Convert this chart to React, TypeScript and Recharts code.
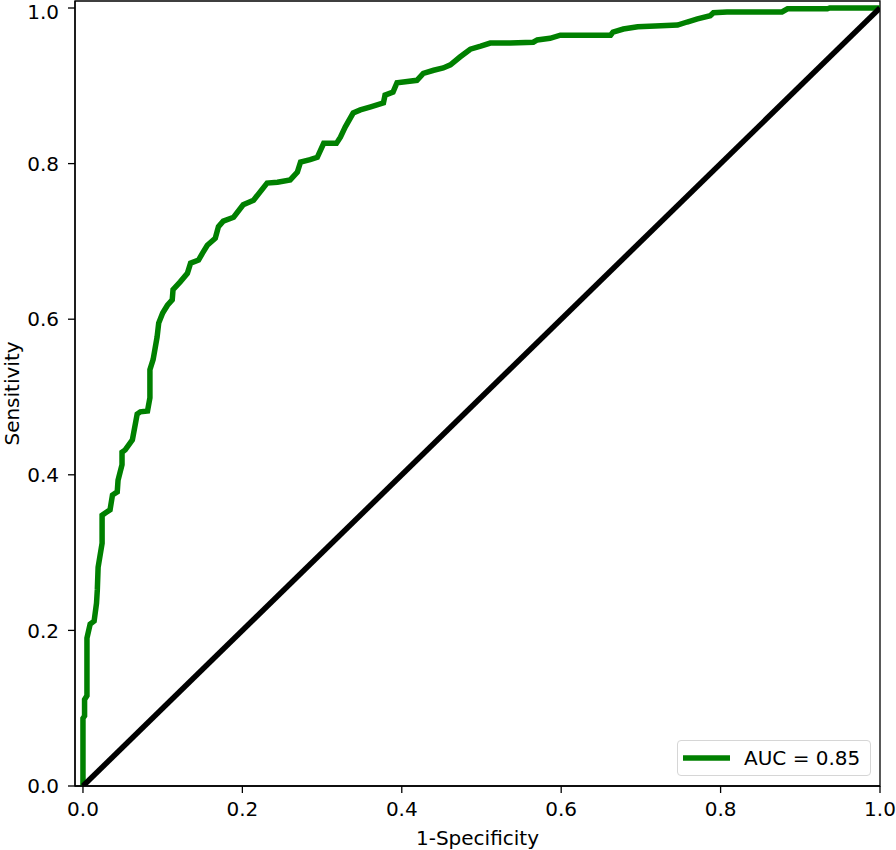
import {
  ComposedChart,
  Line,
  XAxis,
  YAxis,
  Legend,
  ReferenceArea,
} from 'recharts'

// ROC curve points
const fpr = [
  0, 0, 0.002, 0.002, 0.005, 0.005, 0.009, 0.014, 0.017, 0.018, 0.019, 0.024,
  0.024, 0.028, 0.034, 0.037, 0.043, 0.044, 0.049, 0.049, 0.053, 0.062, 0.066,
  0.068, 0.072, 0.081, 0.084, 0.084, 0.088, 0.093, 0.095, 0.1, 0.106, 0.112,
  0.113, 0.122, 0.131, 0.135, 0.145, 0.15, 0.156, 0.166, 0.17, 0.176, 0.189,
  0.201, 0.214, 0.231, 0.244, 0.26, 0.269, 0.273, 0.285, 0.294, 0.302, 0.318,
  0.323, 0.329, 0.339, 0.348, 0.361, 0.377, 0.379, 0.389, 0.394, 0.402, 0.419,
  0.427, 0.44, 0.452, 0.461, 0.473, 0.486, 0.499, 0.511, 0.536, 0.565, 0.57,
  0.586, 0.599, 0.662, 0.665, 0.678, 0.696, 0.718, 0.746, 0.758, 0.771, 0.787,
  0.791, 0.808, 0.877, 0.884, 0.934, 0.937, 1.0,
]
const tpr = [
  0, 0.087, 0.09, 0.111, 0.116, 0.19, 0.208, 0.212, 0.235, 0.252, 0.281, 0.312,
  0.348, 0.351, 0.355, 0.374, 0.378, 0.393, 0.413, 0.429, 0.432, 0.445, 0.467,
  0.478, 0.481, 0.482, 0.499, 0.535, 0.548, 0.577, 0.595, 0.608, 0.618, 0.625,
  0.638, 0.648, 0.659, 0.672, 0.676, 0.685, 0.695, 0.704, 0.719, 0.726, 0.731,
  0.747, 0.753, 0.775, 0.776, 0.779, 0.789, 0.802, 0.805, 0.808, 0.826, 0.826,
  0.834, 0.847, 0.865, 0.869, 0.873, 0.878, 0.888, 0.892, 0.904, 0.905, 0.907,
  0.916, 0.92, 0.923, 0.927, 0.937, 0.947, 0.951, 0.955, 0.955, 0.956, 0.959,
  0.961, 0.965, 0.965, 0.969, 0.973, 0.976, 0.977, 0.978, 0.982, 0.986, 0.99,
  0.994, 0.995, 0.995, 0.999, 0.999, 1.0, 1.0,
]
const chanceX = [0, 1]
const chanceY = [0, 1]
const ticks = [0, 0.2, 0.4, 0.6, 0.8, 1.0]
const aucLabel = 'AUC = 0.85'

const rocData = fpr.map((x, i) => ({ x, y: tpr[i] }))
const chanceData = chanceX.map((x, i) => ({ x, y: chanceY[i] }))

const FONT = 'DejaVu Sans'
const tickStyle = { fill: '#000', fontSize: 20, fontFamily: FONT }

function LegendBox({ payload }: any) {
  const items = (payload || []).filter((p: any) => p.type !== 'none')
  return (
    <div
      style={{
        border: '1.5px solid #d6d6d6',
        borderRadius: 4,
        background: '#fff',
        width: 194,
        height: 36,
        boxSizing: 'border-box',
        display: 'flex',
        alignItems: 'center',
        fontFamily: FONT,
        fontSize: 20,
        color: '#000',
      }}
    >
      {items.map((p: any) => (
        <span key={p.value} style={{ display: 'flex', alignItems: 'center' }}>
          <svg width={62} height={10} style={{ marginLeft: 4 }}>
            <line x1={1} y1={5} x2={48} y2={5} stroke={p.color} strokeWidth={5.5} />
          </svg>
          <span>{p.value}</span>
        </span>
      ))}
    </div>
  )
}

export default function App() {
  return (
    <div style={{ position: 'absolute', left: 0, top: 0 }}>
      <ComposedChart
        width={896}
        height={850}
        margin={{ top: 1, right: 16, left: 0, bottom: 0 }}
      >
        <XAxis
          dataKey="x"
          type="number"
          domain={[-0.01, 1]}
          ticks={ticks}
          allowDataOverflow
          tickFormatter={(v: number) => v.toFixed(1)}
          tick={tickStyle}
          axisLine={{ stroke: '#000', strokeWidth: 1.3 }}
          tickLine={{ stroke: '#000', strokeWidth: 1.3 }}
          tickSize={7}
          tickMargin={9}
          height={64}
          label={{
            value: '1-Specificity',
            position: 'insideBottom',
            offset: 5,
            style: { fill: '#000', fontSize: 20, fontFamily: FONT },
          }}
        />
        <YAxis
          type="number"
          domain={[0, 1.009]}
          ticks={ticks}
          allowDataOverflow
          tickFormatter={(v: number) => v.toFixed(1)}
          tick={tickStyle}
          axisLine={{ stroke: '#000', strokeWidth: 1.3 }}
          tickLine={{ stroke: '#000', strokeWidth: 1.3 }}
          tickSize={7}
          tickMargin={9}
          width={75}
          label={{
            value: 'Sensitivity',
            angle: -90,
            position: 'insideLeft',
            offset: 12,
            style: { fill: '#000', fontSize: 20, fontFamily: FONT, textAnchor: 'middle' },
          }}
        />
        <ReferenceArea
          x1={-0.01}
          x2={1}
          y1={0}
          y2={1.009}
          fill="none"
          stroke="#000"
          strokeWidth={1.3}
          ifOverflow="visible"
        />
        <Line
          data={rocData}
          dataKey="y"
          name={aucLabel}
          type="linear"
          stroke="#008000"
          strokeWidth={5.5}
          dot={false}
          isAnimationActive={false}
        />
        <Line
          data={chanceData}
          dataKey="y"
          name="chance"
          type="linear"
          stroke="#000"
          strokeWidth={5.5}
          dot={false}
          legendType="none"
          isAnimationActive={false}
        />
        <Legend
          layout="horizontal"
          verticalAlign="middle"
          content={<LegendBox />}
          wrapperStyle={{ left: 677, top: 740, width: 'auto' }}
        />
      </ComposedChart>
    </div>
  )
}
